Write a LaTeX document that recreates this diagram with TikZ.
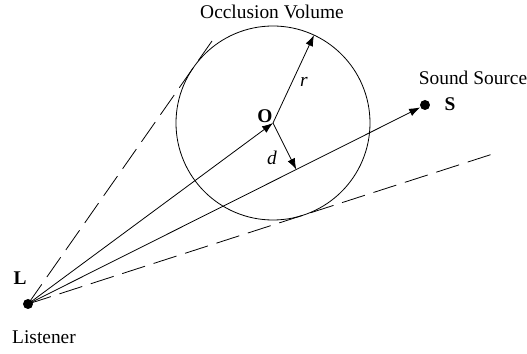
\documentclass[tikz,border=0pt]{standalone}
\usepackage{fontspec}
\setmainfont{Liberation Serif}
\usetikzlibrary{arrows.meta,calc}

\begin{document}
\begin{tikzpicture}[x=0.5pt,y=0.5pt,>={Latex[length=5.5pt,width=4pt]},font=\fontsize{9.7}{12}\selectfont]
\useasboundingbox (0,0) rectangle (527,354);
\tikzset{dot/.style={circle,fill=black,inner sep=0pt,minimum size=5pt},
  tanline/.style={dash pattern=on 12pt off 4.5pt}}
\node[dot] (L) at (28,50) {};
\node[dot] (S) at (425,249) {};
\coordinate (O) at (273,231);
\node[circle,draw,minimum size=97pt,inner sep=0pt,outer sep=0pt] (vol) at (O) {};
% tangents from the listener
\coordinate (t1) at (tangent cs:node=vol,point={(L)},solution=2);
\coordinate (t2) at (tangent cs:node=vol,point={(L)},solution=1);
\draw[tanline] (L.center)--($(L.center)!1.13!(t1)$);
\draw[tanline] (L.center)--($(L.center)!1.69!(t2)$);
% rays and radii
\draw[->] (L.center)--(O);
\draw[->] (L.center)--(S);
\draw[->] (O)--($(O)+(65:97)$);
\draw[->] (O)--($(L)!(O)!(S)$);
% labels
\node[font=\fontsize{9.7}{12}\selectfont\bfseries] (Olab) at (265,238) {O};
\node[font=\fontsize{9.7}{12}\selectfont\bfseries] (Llab) at (20,76) {L};
\node[font=\fontsize{9.7}{12}\selectfont\bfseries] (Slab) at (450,250) {S};
\node (rlab) at (304,272) {\textit{r}};
\node (dlab) at (272,196) {\textit{d}};
\node (src) at (473,276) {Sound Source};
\node (occ) at (272,342) {Occlusion Volume};
\node (lis) at (44,17) {Listener};
\end{tikzpicture}
\end{document}
